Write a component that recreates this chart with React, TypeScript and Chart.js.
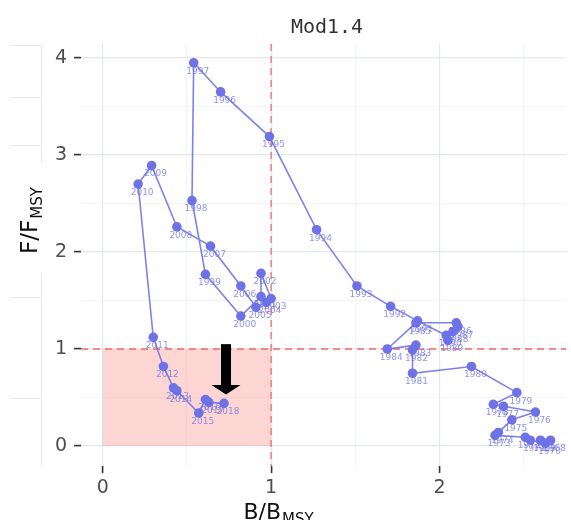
import React, { useEffect, useRef } from "react";
import { Chart, registerables } from "chart.js";

Chart.register(...registerables);

// ---- data ----
const panelTitle = "Mod1.4";

const years = [
  1968, 1969, 1970, 1971, 1972, 1973, 1974, 1975, 1976, 1977,
  1978, 1979, 1980, 1981, 1982, 1983, 1984, 1985, 1986, 1987,
  1988, 1989, 1990, 1991, 1992, 1993, 1994, 1995, 1996, 1997,
  1998, 1999, 2000, 2001, 2002, 2003, 2004, 2005, 2006, 2007,
  2008, 2009, 2010, 2011, 2012, 2013, 2014, 2015, 2016, 2017,
  2018,
];

const bOverBmsy = [
  2.66, 2.60, 2.63, 2.54, 2.51, 2.33, 2.35, 2.43, 2.57, 2.38,
  2.32, 2.46, 2.19, 1.84, 1.84, 1.86, 1.69, 1.86, 2.10, 2.11,
  2.08, 2.05, 2.04, 1.87, 1.71, 1.51, 1.27, 0.99, 0.70, 0.54,
  0.53, 0.61, 0.82, 0.94, 0.94, 1.00, 0.97, 0.91, 0.82, 0.64,
  0.44, 0.29, 0.21, 0.30, 0.36, 0.42, 0.44, 0.57, 0.61, 0.63,
  0.72,
];

const fOverFmsy = [
  0.06, 0.06, 0.03, 0.06, 0.09, 0.11, 0.14, 0.27, 0.35, 0.41,
  0.43, 0.55, 0.82, 0.75, 0.99, 1.04, 1.00, 1.27, 1.27, 1.23,
  1.18, 1.09, 1.14, 1.29, 1.44, 1.65, 2.23, 3.19, 3.65, 3.95,
  2.53, 1.77, 1.34, 1.54, 1.78, 1.52, 1.48, 1.43, 1.65, 2.06,
  2.26, 2.89, 2.70, 1.12, 0.82, 0.60, 0.57, 0.34, 0.48, 0.45,
  0.44,
];

const xTickValues = [0, 0.5, 1, 1.5, 2, 2.5];
const xTickLabels = ["0", "", "1", "", "2", ""];
const yTickValues = [0, 0.5, 1, 1.5, 2, 2.5, 3, 3.5, 4];
const yTickLabels = ["0", "", "1", "", "2", "", "3", "", "4"];

const refB = 1;
const refF = 1;

// arrow annotation (data coords)
const arrowX = 0.732;
const arrowTopY = 1.05;
const arrowHeadBaseY = 0.63;
const arrowTipY = 0.53;

const X_MIN = -0.1294;
const X_MAX = 2.753;
const Y_MIN = -0.206;
const Y_MAX = 4.144;

const POINT_COLOR = "rgb(110,114,230)";
const LINE_COLOR = "rgba(112,116,230,0.9)";

const isMajor = (v: number) => Math.abs(v - Math.round(v)) < 1e-9;

function drawSubTitle(
  ctx: CanvasRenderingContext2D,
  main: string,
  sub: string,
  mainSize: number,
  subSize: number,
  subDrop: number
) {
  ctx.font = `${mainSize}px "DejaVu Sans"`;
  const w1 = ctx.measureText(main).width;
  ctx.font = `${subSize}px "DejaVu Sans"`;
  const w2 = ctx.measureText(sub).width;
  const start = -(w1 + w2) / 2;
  ctx.textAlign = "left";
  ctx.textBaseline = "alphabetic";
  ctx.fillStyle = "#111";
  ctx.font = `${mainSize}px "DejaVu Sans"`;
  ctx.fillText(main, start, 0);
  ctx.font = `${subSize}px "DejaVu Sans"`;
  ctx.fillText(sub, start + w1 + 1, subDrop);
}

const decorPlugin = {
  id: "kobeDecor",
  beforeDraw(chart: any) {
    const ctx = chart.ctx as CanvasRenderingContext2D;
    ctx.save();
    // faint remnants of a neighbouring panel at the far left
    ctx.strokeStyle = "#e4eaec";
    ctx.lineWidth = 1;
    ctx.beginPath();
    ctx.moveTo(41.5, 45);
    ctx.lineTo(41.5, 163);
    ctx.moveTo(41.5, 273);
    ctx.lineTo(41.5, 466);
    [45, 97, 145, 297, 398].forEach((yy) => {
      ctx.moveTo(10, yy + 0.5);
      ctx.lineTo(41, yy + 0.5);
    });
    ctx.stroke();
    ctx.restore();
  },
  beforeDatasetsDraw(chart: any) {
    const ctx = chart.ctx as CanvasRenderingContext2D;
    const a = chart.chartArea;
    const xs = chart.scales.x;
    const ys = chart.scales.y;
    const x0 = xs.getPixelForValue(0);
    const x1 = xs.getPixelForValue(refB);
    const y0 = ys.getPixelForValue(0);
    const y1 = ys.getPixelForValue(refF);
    ctx.save();
    ctx.fillStyle = "rgba(248,118,109,0.3)";
    ctx.fillRect(x0, y1, x1 - x0, y0 - y1);
    ctx.strokeStyle = "#ee6e66";
    ctx.lineWidth = 1.3;
    ctx.setLineDash([7, 5]);
    ctx.beginPath();
    ctx.moveTo(x1, a.top);
    ctx.lineTo(x1, a.bottom);
    ctx.moveTo(a.left, y1);
    ctx.lineTo(a.right, y1);
    ctx.stroke();
    ctx.restore();
  },
  afterDatasetsDraw(chart: any) {
    const ctx = chart.ctx as CanvasRenderingContext2D;
    const xs = chart.scales.x;
    const ys = chart.scales.y;
    ctx.save();
    // year labels
    ctx.font = '9px "DejaVu Sans"';
    ctx.fillStyle = "rgba(105,110,228,0.75)";
    ctx.textAlign = "center";
    ctx.textBaseline = "top";
    years.forEach((yr, i) => {
      const px = xs.getPixelForValue(bOverBmsy[i]);
      const py = ys.getPixelForValue(fOverFmsy[i]);
      ctx.fillText(String(yr), px + 4, py + 4);
    });
    // arrow
    const ax = xs.getPixelForValue(arrowX);
    const aTop = ys.getPixelForValue(arrowTopY);
    const aBase = ys.getPixelForValue(arrowHeadBaseY);
    const aTip = ys.getPixelForValue(arrowTipY);
    ctx.fillStyle = "#000";
    ctx.fillRect(ax - 5, aTop, 10, aBase - aTop + 0.5);
    ctx.beginPath();
    ctx.moveTo(ax - 14.5, aBase);
    ctx.lineTo(ax + 14.5, aBase);
    ctx.lineTo(ax, aTip);
    ctx.closePath();
    ctx.fill();
    ctx.restore();
  },
  afterDraw(chart: any) {
    const ctx = chart.ctx as CanvasRenderingContext2D;
    ctx.save();
    // panel title
    ctx.font = '20px "DejaVu Sans Mono"';
    ctx.fillStyle = "#333";
    ctx.textAlign = "center";
    ctx.textBaseline = "alphabetic";
    ctx.fillText(panelTitle, 327, 33);
    ctx.restore();

    // y axis title
    ctx.save();
    ctx.translate(29, 221);
    ctx.rotate(-Math.PI / 2);
    ctx.translate(0, 8);
    drawSubTitle(ctx, "F/F", "MSY", 23, 15, 5);
    ctx.restore();

    // x axis title
    ctx.save();
    ctx.translate(278, 519);
    drawSubTitle(ctx, "B/B", "MSY", 22, 15, 5);
    ctx.restore();
  },
};

export default function App() {
  const ref = useRef<HTMLCanvasElement | null>(null);

  useEffect(() => {
    if (!ref.current) return;
    Chart.defaults.font.family = '"DejaVu Sans"';
    const data = years.map((_, i) => ({ x: bOverBmsy[i], y: fOverFmsy[i] }));
    const gridColor = (c: any) =>
      isMajor(c.tick?.value ?? 0) ? "#e3e9eb" : "#edf1f2";
    const gridWidth = (c: any) => (isMajor(c.tick?.value ?? 0) ? 1.2 : 0.7);
    const tickColor = (c: any) =>
      isMajor(c.tick?.value ?? 0) ? "#333333" : "rgba(0,0,0,0)";

    const chart = new Chart(ref.current, {
      type: "scatter",
      data: {
        datasets: [
          {
            data,
            showLine: true,
            borderColor: LINE_COLOR,
            borderWidth: 1.6,
            pointRadius: 4.8,
            pointBackgroundColor: POINT_COLOR,
            pointBorderWidth: 0,
            tension: 0,
          } as any,
        ],
      },
      options: {
        responsive: false,
        animation: false,
        layout: { padding: { top: 44, right: 0, left: 0, bottom: 0 } },
        plugins: {
          legend: { display: false },
          tooltip: { enabled: false },
          title: { display: false },
        },
        scales: {
          x: {
            type: "linear",
            min: X_MIN,
            max: X_MAX,
            afterBuildTicks: (s: any) => {
              s.ticks = xTickValues.map((v) => ({ value: v }));
            },
            afterFit: (s: any) => {
              s.height = 54;
            },
            ticks: {
              autoSkip: false,
              maxRotation: 0,
              color: "#4d4d4d",
              font: { size: 19 },
              padding: 4,
              callback: (v: any) => {
                const i = xTickValues.indexOf(Number(v));
                return i >= 0 ? xTickLabels[i] : "";
              },
            },
            grid: {
              color: gridColor,
              lineWidth: gridWidth,
              tickColor,
              tickLength: 7,
              tickWidth: 1.6,
              drawTicks: true,
            },
            border: { display: false },
          },
          y: {
            type: "linear",
            min: Y_MIN,
            max: Y_MAX,
            afterBuildTicks: (s: any) => {
              s.ticks = yTickValues.map((v) => ({ value: v }));
            },
            afterFit: (s: any) => {
              s.width = 81;
            },
            ticks: {
              autoSkip: false,
              color: "#4d4d4d",
              font: { size: 19 },
              padding: 7,
              callback: (v: any) => {
                const i = yTickValues.indexOf(Number(v));
                return i >= 0 ? yTickLabels[i] : "";
              },
            },
            grid: {
              color: gridColor,
              lineWidth: gridWidth,
              tickColor,
              tickLength: 7,
              tickWidth: 1.6,
              drawTicks: true,
            },
            border: { display: false },
          },
        },
      },
      plugins: [decorPlugin as any],
    });
    return () => chart.destroy();
  }, []);

  return (
    <div style={{ position: "absolute", left: 0, top: 0, width: 571, height: 520, background: "#fff" }}>
      <canvas ref={ref} width={571} height={520} style={{ display: "block", width: 571, height: 520 }} />
    </div>
  );
}
